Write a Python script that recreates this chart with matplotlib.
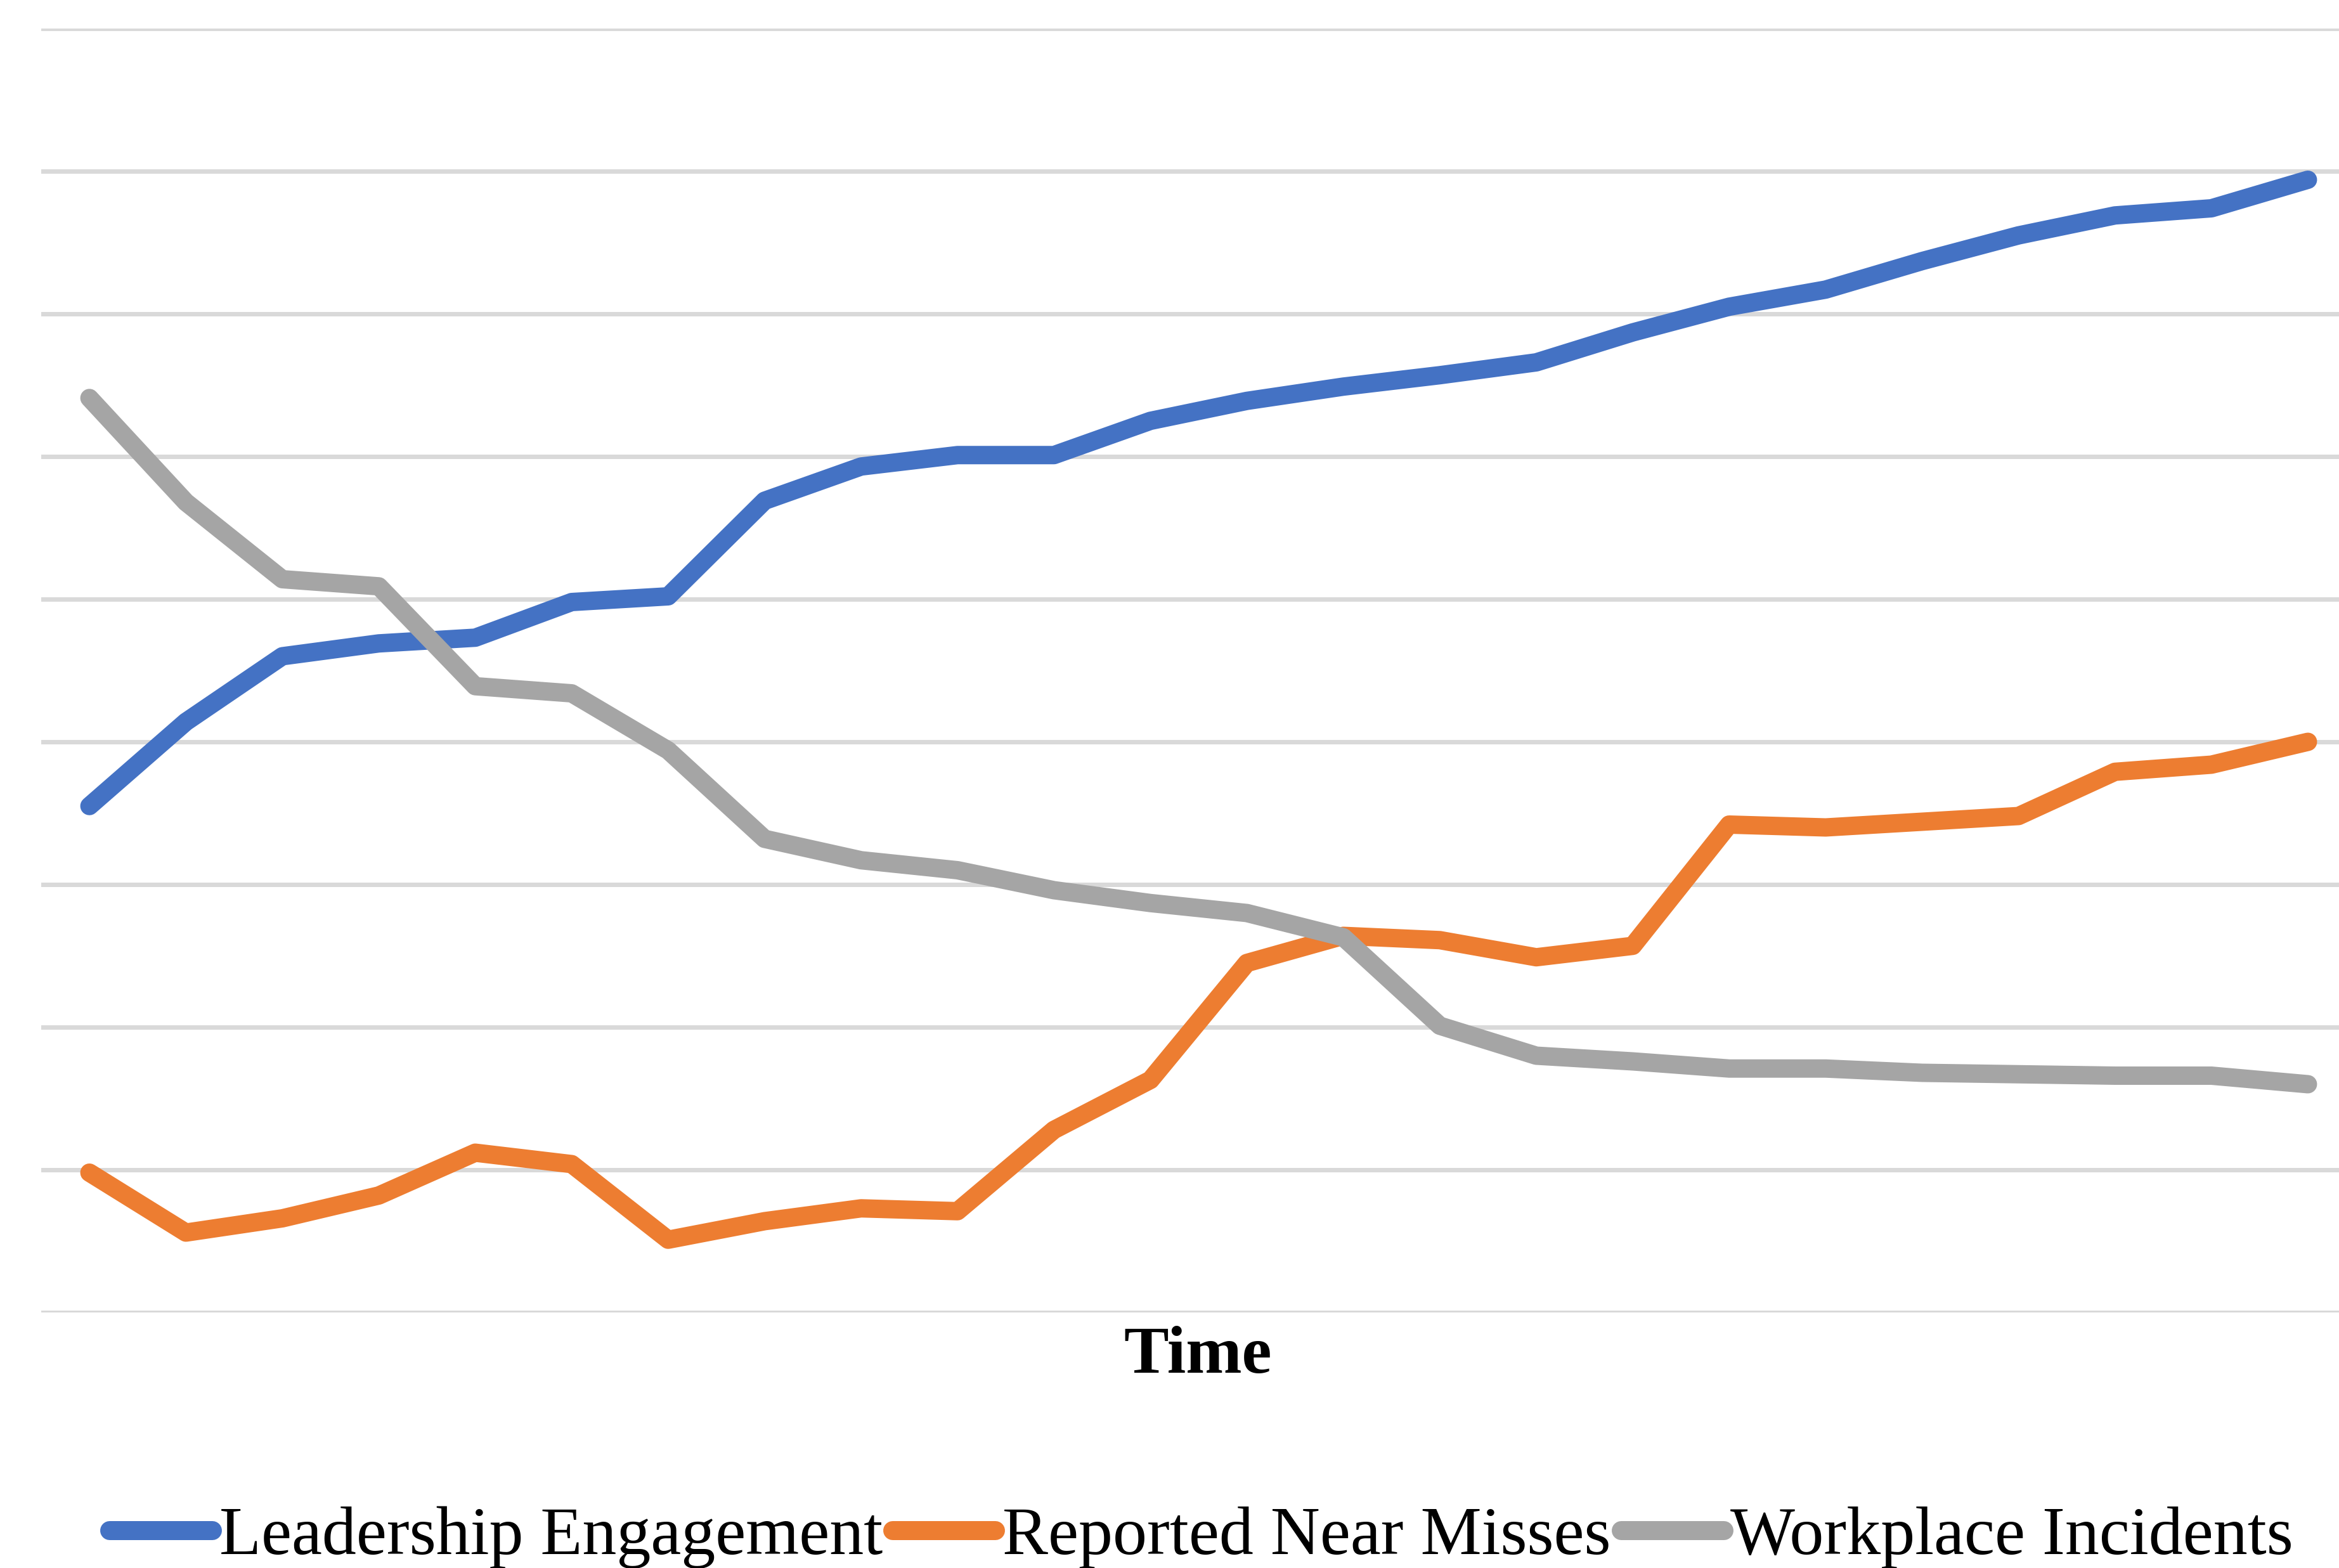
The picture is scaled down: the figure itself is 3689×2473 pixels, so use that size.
import matplotlib
matplotlib.use("Agg")
import matplotlib.pyplot as plt
from matplotlib.lines import Line2D

# ---- data (in gridline units) ----
periods = list(range(1, 25))
leadership_engagement = [3.55, 4.14, 4.60, 4.69, 4.73, 4.98, 5.02, 5.69, 5.93, 6.01, 6.01, 6.25,
                         6.39, 6.49, 6.57, 6.66, 6.87, 7.05, 7.17, 7.37, 7.55, 7.69, 7.74, 7.94]
reported_near_misses = [0.98, 0.56, 0.66, 0.82, 1.12, 1.04, 0.51, 0.64, 0.73, 0.71, 1.28, 1.63,
                        2.45, 2.64, 2.61, 2.49, 2.57, 3.42, 3.40, 3.44, 3.48, 3.79, 3.84, 4.00]
workplace_incidents = [6.41, 5.68, 5.14, 5.09, 4.39, 4.34, 3.94, 3.32, 3.17, 3.10, 2.96, 2.87,
                       2.80, 2.63, 2.01, 1.80, 1.76, 1.71, 1.71, 1.68, 1.67, 1.66, 1.66, 1.60]
series_names = ["Leadership Engagement", "Reported Near Misses", "Workplace Incidents"]
series_colors = ["#4472C4", "#ED7D31", "#A5A5A5"]
x_label = "Time"

W, H = 3689, 2473
DPI = 100
fig = plt.figure(figsize=(W / DPI, H / DPI), dpi=DPI)
fig.patch.set_facecolor("white")

# axes: left edge 65px, bottom gridline 2070px, top gridline 45px, extends past right edge
ax_left, ax_right = 65, 3716
ax_top, ax_bottom = 45, 2070
ax = fig.add_axes([ax_left / W, (H - ax_bottom) / H,
                   (ax_right - ax_left) / W, (ax_bottom - ax_top) / H])

px2pt = 72 / DPI
idx = list(range(len(periods)))
for vals, name, col in zip([leadership_engagement, reported_near_misses, workplace_incidents],
                           series_names, series_colors):
    ax.plot(idx, vals, color=col, lw=29 * px2pt, solid_joinstyle="round",
            solid_capstyle="round", label=name, zorder=3)

ax.set_xlim(-0.5, len(periods) - 0.5)
ax.set_ylim(0, 9)
ax.set_yticks(range(0, 10))
ax.set_xticks([])
ax.tick_params(axis="y", length=0, labelleft=False)
ax.grid(axis="y", color="#D9D9D9", lw=7 * px2pt, zorder=0)
ax.set_axisbelow(True)
for s in ax.spines.values():
    s.set_visible(False)

serif = ["Liberation Serif", "DejaVu Serif"]
fig.text(1889 / W, 1 - 2140 / H, x_label, ha="center", va="center",
         fontsize=106 * px2pt, fontweight="bold", family=serif)

handles = [Line2D([0], [0], color=c, lw=30 * px2pt, solid_capstyle="round") for c in series_colors]
leg = fig.legend(handles, series_names, loc="center", bbox_to_anchor=(1895 / W, 1 - 2425 / H),
                 ncol=3, frameon=False, handlelength=1.5, handletextpad=0.1,
                 columnspacing=0.15, borderaxespad=0, borderpad=0,
                 prop={"family": serif, "size": 108 * px2pt})

fig.savefig("out.png", dpi=DPI, facecolor="white")
